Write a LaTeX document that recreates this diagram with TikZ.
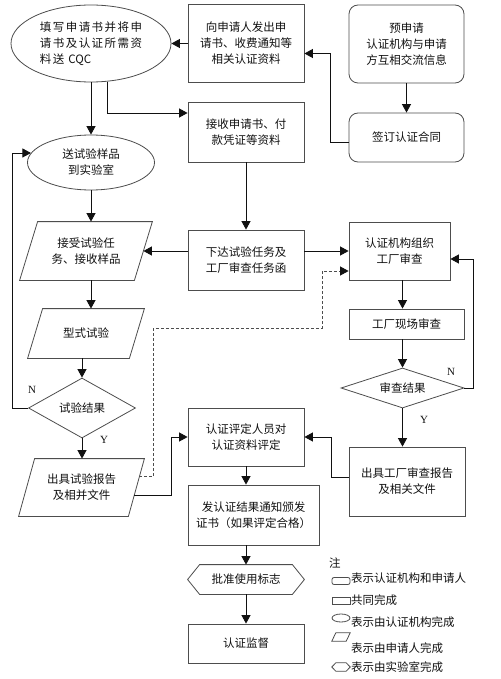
\documentclass[tikz,border=0pt]{standalone}
\usepackage{fontspec}
\setmainfont{Noto Sans CJK SC}
\newfontfamily\labserif{Liberation Serif}
\usetikzlibrary{shapes.geometric,arrows.meta,calc}
\definecolor{bordc}{HTML}{4D4D4D}
\definecolor{arrc}{HTML}{111111}
\definecolor{txtc}{HTML}{111111}
\newcommand\drawpara[2]{\draw[shp] ($(#1.north west)+(#2,0)$) -- (#1.north east) -- ($(#1.south east)+(-#2,0)$) -- (#1.south west) -- cycle;}
\newcommand\drawhex[2]{\draw[shp] (#1.west) -- ($(#1.north west)+(#2,0)$) -- ($(#1.north east)+(-#2,0)$) -- (#1.east) -- ($(#1.south east)+(-#2,0)$) -- ($(#1.south west)+(#2,0)$) -- cycle;}
\tikzset{
  shp/.style={draw=bordc, line width=0.8pt},
  base/.style={shp, text=txtc, font=\fontsize{11.5}{16}\selectfont, align=center, inner sep=0pt},
  rbox/.style={base, rectangle},
  rrbox/.style={base, rectangle, rounded corners=9pt},
  ell/.style={base, ellipse},
  dia/.style={base, diamond, aspect=3},
  para/.style={base, rectangle, draw=none},
  hexa/.style={base, rectangle, draw=none},
  arr/.style={draw=arrc, line width=0.9pt, -{Triangle[length=8.5pt,width=9pt]}},
  darr/.style={draw=bordc, line width=0.9pt, dash pattern=on 3pt off 2pt, -{Triangle[length=8.5pt,width=9pt,color=arrc]}},
  lab/.style={text=txtc, font=\labserif\fontsize{11}{12}\selectfont, inner sep=0pt},
  lgtext/.style={text=txtc, font=\fontsize{11.5}{14}\selectfont, inner sep=0pt, anchor=west},
  lg/.style={shp, inner sep=0pt, rectangle}
}
\begin{document}
\begin{tikzpicture}[x=1pt,y=-1pt]
\useasboundingbox[fill=white] (0,0) rectangle (500,679);

% nodes
\node[ell, minimum width=160pt, minimum height=77pt, align=left, font=\fontsize{11.5}{16}\selectfont\addfontfeature{LetterSpace=13}] (e1) at (91,43.5) {填写申请书并将申\\请书及认证所需资\\料送 {\addfontfeature{LetterSpace=0}CQC}};
\node[rbox, minimum width=116pt, minimum height=78pt] (r2) at (246,43.5) {向申请人发出申\\请书、收费通知等\\相关认证资料};
\node[rrbox, minimum width=115pt, minimum height=78pt] (r3) at (406.5,44) {预申请\\认证机构与申请\\方互相交流信息};
\node[rrbox, minimum width=115pt, minimum height=49pt] (r4) at (406.5,137.5) {签订认证合同};
\node[rbox, minimum width=116pt, minimum height=60pt] (r5) at (246,132) {接收申请书、付\\款凭证等资料};
\node[ell, minimum width=127pt, minimum height=55pt] (e2) at (91,162.5) {送试验样品\\到实验室};
\node[para, minimum width=132pt, minimum height=58pt] (p1) at (86,251) {接受试验任\\务、接收样品};
\node[rbox, minimum width=116pt, minimum height=60pt] (r8) at (246,260) {下达试验任务及\\工厂审查任务函};
\node[para, minimum width=116pt, minimum height=49pt] (p2) at (86,333.5) {型式试验};
\node[dia, minimum width=107pt, minimum height=60pt] (d1) at (82,408) {试验结果};
\node[para, minimum width=125pt, minimum height=57pt] (p3) at (81.5,487.5) {出具试验报告\\及相并文件};
\node[rbox, minimum width=101pt, minimum height=58pt] (r12) at (399.5,251) {认证机构组织\\工厂审查};
\node[rbox, minimum width=115pt, minimum height=30pt] (r13) at (406.5,324) {工厂现场审查};
\node[dia, minimum width=123pt, minimum height=40pt] (d2) at (402.5,388) {审查结果};
\node[rbox, minimum width=116pt, minimum height=69pt] (r15) at (407,481.5) {出具工厂审查报告\\及相关文件};
\node[rbox, minimum width=116pt, minimum height=58pt] (r16) at (246,437) {认证评定人员对\\认证资料评定};
\node[rbox, minimum width=131pt, minimum height=60pt] (r17) at (253.5,515) {发认证结果通知颁发\\证书（如果评定合格）};
\node[hexa, minimum width=116pt, minimum height=29pt] (h18) at (246,579.5) {批准使用标志};
\node[rbox, minimum width=116pt, minimum height=39pt] (r19) at (246,643.5) {认证监督};

\drawpara{p1}{18}
\drawpara{p2}{15}
\drawpara{p3}{16}
\drawhex{h18}{12}

% connectors
\draw[arr] (r2.west) -- (e1.east);
\draw[arr] (r3) -- (r4);
\draw[arr] ($(r4.west)+(0,5)$) -- ++(-18,0) |- ($(r2.east)+(0,10)$);
\draw[arr] (e1) -- (e2);
\draw[arr] (e1.294) |- ($(r5.west)+(0,-19)$);
\draw[arr] (r5) -- (r8);
\draw[arr] (e2) -- (e2 |- p1.north);
\draw[arr] (r8.west |- p1) -- ($(p1.east)+(-9,0)$);
\draw[arr] (r8.east |- r12) -- (r12.west);
\draw[arr] (p1.south -| e2) -- (p2.north -| e2);
\draw[arr] (p2.south -| d1) -- (d1.north);
\draw[arr] (d1.south) -- (p3.north -| d1);
\draw[arr] (d1.west) -- ++(-16,0) |- (e2.171);
\coordinate (dk) at (322,328);
\draw[darr] ($(p3.north east)+(-5,18)$) -- ++(14,0) |- (dk) |- ($(r12.west)+(0,20)$);
\draw[arr] ($(p3.north east)+(-10.4,37)$) -- ++(37,0) |- (r16.west);
\draw[arr] ($(r15.west)+(0,-4.5)$) -- ++(-17,0) |- (r16.east);
\draw[arr] (d2.east) -- ++(9,0) |- ($(r12.east)+(0,8)$);
\draw[arr] (r12.south -| d2) -- (r13.north -| d2);
\draw[arr] (r13.south -| d2) -- (d2.north);
\draw[arr] (d2.south) -- (r15.north -| d2);
\draw[arr] (r16) -- (r16 |- r17.north);
\draw[arr] (r17.south -| r16) -- (h18.north);
\draw[arr] (h18) -- (r19);

% labels
\node[lab] (n1) at (32,390) {N};
\node[lab] (y1) at (104,440) {Y};
\node[lab] (n2) at (451,372) {N};
\node[lab] (y2) at (424,420) {Y};

% legend
\node[lgtext] (zhu) at (329,563) {注};
\node[lg, rounded corners=2pt, minimum width=18pt, minimum height=7pt] (lg1) at (341,581) {};
\node[lgtext] (lt1) at (351,578) {表示认证机构和申请人};
\node[lg, minimum width=18pt, minimum height=7pt] (lg2) at (341,600.5) {};
\node[lgtext] (lt2) at (351,600) {共同完成};
\node[lg, ellipse, minimum width=18pt, minimum height=8pt] (lg3) at (341,618) {};
\node[lgtext] (lt3) at (351,622) {表示由认证机构完成};
\node[inner sep=0pt, minimum width=18pt, minimum height=8pt] (lg4) at (341,637) {};
\drawpara{lg4}{4}
\node[lgtext] (lt4) at (351,648) {表示由申请人完成};
\node[inner sep=0pt, minimum width=18pt, minimum height=8pt] (lg5) at (341,667) {};
\drawhex{lg5}{4}
\node[lgtext] (lt5) at (351,667) {表示由实验室完成};
\end{tikzpicture}
\end{document}
